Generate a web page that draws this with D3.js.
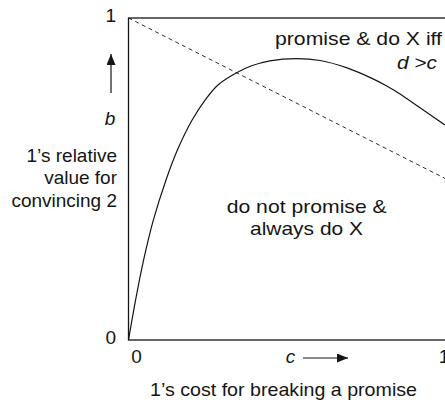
<!DOCTYPE html>
<html>
<head>
<meta charset="utf-8">
<script src="https://cdn.jsdelivr.net/npm/d3@7"></script>
<style>
  html, body { margin: 0; padding: 0; background: #fff; }
  svg { display: block; font-family: "Liberation Sans", Arial, Helvetica, sans-serif; }
</style>
</head>
<body>
<svg id="chart" width="445" height="405"></svg>
<script>
// Boundary curve: b as a function of c
const curveC = [0, 0.023, 0.049, 0.081, 0.122, 0.159, 0.207, 0.249, 0.291, 0.350, 0.398, 0.460, 0.545, 0.623, 0.711, 0.795, 0.834, 0.883, 0.948, 1.029];
const curveB = [0, 0.124, 0.248, 0.373, 0.497, 0.590, 0.683, 0.745, 0.792, 0.829, 0.851, 0.867, 0.874, 0.868, 0.845, 0.811, 0.792, 0.764, 0.721, 0.668];

// Dashed reference line
const dashC = [0, 1.06];
const dashB = [1, 0.487];

// Axis tick labels
const xTicks = [0, 1];
const yTicks = [0, 1];

const svg = d3.select("#chart");
const ink = "#151515";
const FS = 19;

const x = d3.scaleLinear().domain([0, 1]).range([128.5, 436]);
const y = d3.scaleLinear().domain([0, 1]).range([340, 18]);

// Frame (right side runs off the canvas)
svg.append("rect")
  .attr("x", x(0)).attr("y", y(1))
  .attr("width", x(1.08) - x(0)).attr("height", y(0) - y(1))
  .attr("fill", "none").attr("stroke", ink).attr("stroke-width", 1.3);

// Axes: labels only
const xAxis = svg.append("g")
  .attr("transform", `translate(0,${y(0)})`)
  .call(d3.axisBottom(x).tickValues(xTicks).tickSize(0).tickPadding(9.5).tickFormat(d3.format("d")));
xAxis.select(".domain").remove();
xAxis.selectAll("text").attr("dx", 7.5).attr("font-size", FS).attr("fill", ink)
  .attr("font-family", "Liberation Sans, Arial, sans-serif");

const yAxis = svg.append("g")
  .attr("transform", `translate(${x(0)},0)`)
  .call(d3.axisLeft(y).tickValues(yTicks).tickSize(0).tickPadding(12.5).tickFormat(d3.format("d")));
yAxis.select(".domain").remove();
yAxis.selectAll("text").attr("y", -3).attr("font-size", FS).attr("fill", ink)
  .attr("font-family", "Liberation Sans, Arial, sans-serif");

// Clip for the plotted lines
svg.append("clipPath").attr("id", "plotClip")
  .append("rect").attr("x", x(0)).attr("y", y(1)).attr("width", 400).attr("height", y(0) - y(1));

const lineGen = d3.line().x(d => x(d[0])).y(d => y(d[1]));

svg.append("path")
  .datum(dashC.map((c, i) => [c, dashB[i]]))
  .attr("clip-path", "url(#plotClip)")
  .attr("d", lineGen)
  .attr("fill", "none").attr("stroke", ink).attr("stroke-width", 0.9)
  .attr("stroke-dasharray", "4,3.5");

svg.append("path")
  .datum(curveC.map((c, i) => [c, curveB[i]]))
  .attr("clip-path", "url(#plotClip)")
  .attr("d", lineGen.curve(d3.curveCatmullRom.alpha(0.5)))
  .attr("fill", "none").attr("stroke", ink).attr("stroke-width", 1.2);

// Arrow marker
svg.append("defs").append("marker")
  .attr("id", "arrow").attr("viewBox", "0 0 11 9")
  .attr("refX", 11).attr("refY", 4.5)
  .attr("markerWidth", 11).attr("markerHeight", 9)
  .attr("markerUnits", "userSpaceOnUse").attr("orient", "auto")
  .append("path").attr("d", "M0,0L11,4.5L0,9Z").attr("fill", ink);

const txt = (sel) => sel.attr("font-size", FS).attr("fill", ink);

// x-axis label with arrow
svg.append("text").attr("x", 290.5).attr("y", 363).attr("text-anchor", "middle")
  .attr("font-style", "italic").call(txt).text("c");
svg.append("line").attr("x1", 303).attr("y1", 358).attr("x2", 348).attr("y2", 358)
  .attr("stroke", ink).attr("stroke-width", 1.2).attr("marker-end", "url(#arrow)");
svg.append("text").attr("x", 150).attr("y", 396)
  .attr("textLength", 267).attr("lengthAdjust", "spacingAndGlyphs")
  .call(txt).text("1’s cost for breaking a promise");

// y-axis label with arrow
svg.append("line").attr("x1", 111).attr("y1", 93).attr("x2", 111).attr("y2", 54)
  .attr("stroke", ink).attr("stroke-width", 1.2).attr("marker-end", "url(#arrow)");
svg.append("text").attr("x", 110).attr("y", 125).attr("text-anchor", "middle")
  .attr("font-style", "italic").call(txt).text("b");
const yLabel = ["1’s relative", "value for", "convincing 2"];
svg.append("text").attr("text-anchor", "end").call(txt)
  .selectAll("tspan").data(yLabel).join("tspan")
  .attr("x", 117).attr("y", (d, i) => 161.5 + i * 22.5).text(d => d);

// Region labels
svg.append("text").attr("x", 275).attr("y", 44.5)
  .attr("textLength", 167).attr("lengthAdjust", "spacingAndGlyphs")
  .call(txt).text("promise & do X iff");
const dc = svg.append("text").attr("x", 397).attr("y", 68.5)
  .attr("textLength", 40).attr("lengthAdjust", "spacingAndGlyphs").call(txt);
dc.append("tspan").attr("font-style", "italic").text("d");
dc.append("tspan").text(" >");
dc.append("tspan").attr("font-style", "italic").text("c");

svg.append("text").attr("x", 226.7).attr("y", 213)
  .attr("textLength", 160).attr("lengthAdjust", "spacingAndGlyphs")
  .call(txt).text("do not promise &");
svg.append("text").attr("x", 250).attr("y", 235)
  .attr("textLength", 113).attr("lengthAdjust", "spacingAndGlyphs")
  .call(txt).text("always do X");
</script>
</body>
</html>
